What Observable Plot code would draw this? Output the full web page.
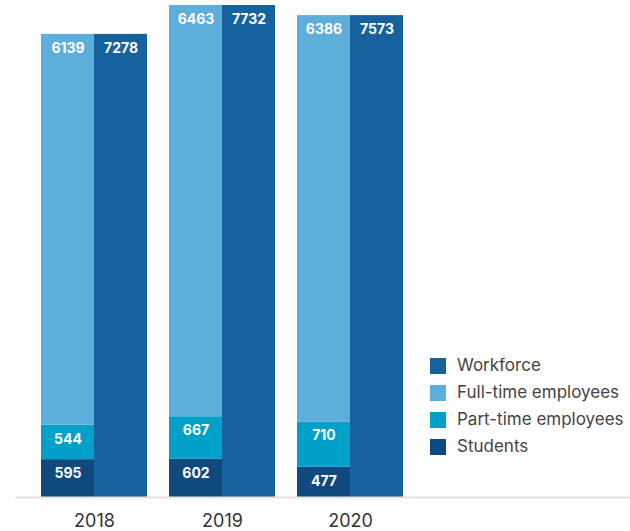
<!DOCTYPE html>
<html><head><meta charset="utf-8">
<script src="https://cdn.jsdelivr.net/npm/d3@7"></script>
<script src="https://cdn.jsdelivr.net/npm/@observablehq/plot@0.6"></script>
<style>
body{margin:0;background:#fff;font-family:Inter,"Liberation Sans",sans-serif}
#wrap{position:relative;width:630px;height:531px}
#legend{position:absolute;left:430px;top:355px;width:200px}
.lg-swatch{padding-bottom:6px !important;line-height:21px !important}
.lg-swatch svg{margin-right:11px !important}
</style></head><body><div id="wrap"><div id="legend"></div></div>
<script>
const years = ["2018","2019","2020"];
const students = [595, 602, 477];
const partTime = [544, 667, 710];
const fullTime = [6139, 6463, 6386];
const workforce = [7278, 7732, 7573];
const categories = ["Workforce","Full-time employees","Part-time employees","Students"];
const colors = ["#17629c","#5daedb","#00a0c8","#0e4a80"];

const stackData = years.flatMap((year,i)=>[
  {year, category:"Students", value: students[i]},
  {year, category:"Part-time employees", value: partTime[i]},
  {year, category:"Full-time employees", value: fullTime[i]}
]);
const totalData = years.map((year,i)=>({year, category:"Workforce", value: workforce[i]}));

const labelStyle = {fill:"white", fontWeight:"bold", fontSize:14, lineAnchor:"middle"};

const plot = Plot.plot({
  width:630, height:531, marginLeft:15, marginRight:0, marginTop:5, marginBottom:34,
  style:{fontFamily:"Inter, 'Liberation Sans', sans-serif", background:"white"},
  x:{domain:years, range:[40,403], paddingInner:0.175, paddingOuter:0, label:null},
  y:{domain:[0,7732], axis:null},
  color:{domain:categories, range:colors},
  marks:[
    Plot.barY(stackData, {x:"year", y:"value", fill:"category", insetRight:53}),
    Plot.barY(totalData, {x:"year", y:"value", fill:"category", insetLeft:53}),
    Plot.text(stackData, Plot.stackY2({x:"year", y:"value", z:"category", text:d=>String(d.value), dx:-26.5, dy:14, ...labelStyle})),
    Plot.text(totalData, {x:"year", y:"value", text:d=>String(d.value), dx:26.5, dy:14, ...labelStyle}),
    Plot.ruleY([0], {stroke:"#e4e4e4", strokeWidth:2}),
    Plot.axisX({tickSize:0, tickPadding:17, fontSize:18, fill:"#333", label:null})
  ]
});
document.getElementById("wrap").prepend(plot);

const legend = Plot.legend({
  color:{domain:categories, range:colors},
  legend:"swatches", columns:1, swatchSize:16, className:"lg",
  style:{fontSize:"17px", color:"#444", fontFamily:"Inter, 'Liberation Sans', sans-serif"}
});
document.getElementById("legend").append(legend);
</script></body></html>
